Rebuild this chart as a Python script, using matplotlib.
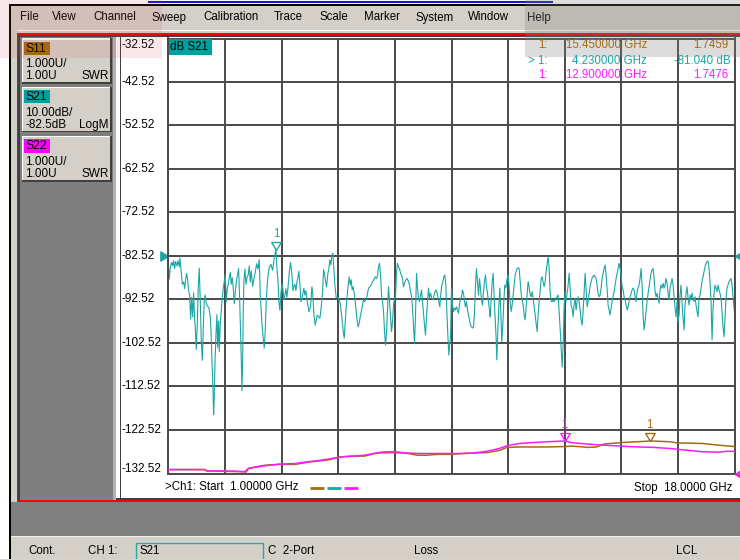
import numpy as np
import matplotlib.pyplot as plt
from matplotlib.patches import Rectangle
from matplotlib.path import Path

plt.rcParams['font.family'] = ['Liberation Sans', 'DejaVu Sans']

# S21 log-mag trace: (GHz, dB)
s21_points = [
    (1.00, -84.5), (1.03, -87.8), (1.06, -85.0), (1.10, -84.0), (1.13, -84.8), (1.16, -83.6), (1.19, -85.4),
    (1.22, -83.8), (1.26, -84.8), (1.29, -83.6), (1.33, -85.0), (1.35, -83.0), (1.39, -86.5), (1.42, -89.0),
    (1.46, -88.5), (1.49, -90.0), (1.52, -88.0), (1.55, -86.5), (1.58, -88.0), (1.61, -90.5), (1.64, -91.5),
    (1.67, -97.0), (1.70, -92.0), (1.73, -96.5), (1.76, -91.0), (1.79, -97.0), (1.81, -99.0), (1.84, -104.0),
    (1.87, -98.0), (1.90, -89.5), (1.93, -85.3), (1.96, -93.0), (1.99, -102.0), (2.02, -106.5), (2.05, -99.0),
    (2.08, -92.5), (2.11, -91.5), (2.14, -93.5), (2.18, -94.0), (2.22, -94.5), (2.26, -96.5), (2.28, -99.5),
    (2.31, -106.5), (2.34, -113.0), (2.36, -119.0), (2.38, -115.0), (2.40, -107.5), (2.43, -100.5), (2.46, -96.0),
    (2.48, -103.5), (2.51, -97.5), (2.53, -104.5), (2.56, -98.0), (2.58, -96.0), (2.61, -93.0), (2.65, -89.8),
    (2.68, -88.4), (2.71, -86.8), (2.74, -93.0), (2.77, -90.0), (2.80, -89.0), (2.83, -87.5), (2.86, -86.3),
    (2.89, -89.0), (2.92, -87.5), (2.95, -90.0), (2.98, -93.5), (3.01, -91.0), (3.04, -88.5), (3.08, -86.8),
    (3.11, -85.4), (3.14, -92.0), (3.17, -100.5), (3.19, -106.0), (3.21, -113.5), (3.23, -107.0), (3.25, -95.0),
    (3.27, -88.0), (3.30, -85.5), (3.33, -89.0), (3.36, -87.5), (3.40, -86.8), (3.43, -84.8), (3.46, -88.5),
    (3.49, -86.0), (3.53, -89.5), (3.57, -87.8), (3.61, -86.3), (3.65, -84.3), (3.69, -85.5), (3.73, -83.4),
    (3.76, -91.5), (3.79, -95.3), (3.82, -99.0), (3.85, -101.5), (3.88, -103.7), (3.91, -99.5), (3.94, -93.0),
    (3.97, -89.0), (4.00, -86.5), (4.03, -85.2), (4.08, -84.4), (4.13, -85.8), (4.18, -83.0), (4.23, -81.04),
    (4.26, -85.5), (4.29, -88.0), (4.32, -93.0), (4.35, -95.0), (4.38, -91.0), (4.41, -89.0), (4.44, -90.0),
    (4.47, -92.5), (4.50, -91.5), (4.53, -90.0), (4.56, -92.0), (4.59, -90.0), (4.63, -86.3), (4.67, -84.0),
    (4.71, -86.8), (4.74, -90.5), (4.77, -89.5), (4.80, -89.0), (4.83, -90.5), (4.86, -88.5), (4.89, -87.5),
    (4.92, -86.0), (4.95, -89.0), (4.98, -93.0), (5.01, -92.5), (5.04, -91.0), (5.07, -90.0), (5.10, -91.5),
    (5.13, -90.5), (5.16, -92.5), (5.22, -95.3), (5.27, -94.2), (5.31, -89.6), (5.34, -91.5), (5.37, -96.1),
    (5.41, -98.4), (5.44, -97.2), (5.47, -96.1), (5.51, -96.5), (5.55, -96.8), (5.59, -94.2), (5.63, -90.7),
    (5.66, -85.7), (5.69, -86.5), (5.72, -88.4), (5.75, -89.6), (5.79, -86.5), (5.82, -85.4), (5.85, -83.4),
    (5.88, -84.6), (5.91, -82.3), (5.94, -81.9), (5.97, -85.4), (6.00, -89.2), (6.04, -92.2), (6.08, -91.9),
    (6.12, -92.6), (6.16, -93.4), (6.19, -95.3), (6.22, -97.6), (6.25, -99.9), (6.28, -101.4), (6.31, -97.6),
    (6.34, -94.2), (6.37, -91.5), (6.40, -89.2), (6.43, -87.3), (6.46, -89.2), (6.49, -88.0), (6.52, -90.3),
    (6.55, -89.6), (6.58, -91.1), (6.61, -93.0), (6.64, -95.3), (6.67, -97.6), (6.70, -98.8), (6.73, -98.0),
    (6.76, -96.5), (6.79, -95.3), (6.82, -94.2), (6.86, -92.6), (6.89, -93.0), (6.93, -92.6), (6.97, -91.5),
    (7.01, -89.9), (7.05, -89.6), (7.09, -89.2), (7.13, -88.4), (7.17, -88.0), (7.21, -87.3), (7.25, -87.7),
    (7.28, -86.9), (7.31, -85.0), (7.34, -84.2), (7.37, -86.9), (7.40, -91.5), (7.43, -93.0), (7.46, -95.3),
    (7.49, -99.9), (7.52, -103.0), (7.55, -99.9), (7.58, -94.9), (7.61, -89.6), (7.64, -93.0), (7.67, -96.1),
    (7.70, -99.9), (7.73, -97.6), (7.76, -93.8), (7.79, -92.2), (7.82, -91.9), (7.85, -86.1), (7.88, -84.2),
    (7.91, -85.0), (7.94, -85.4), (7.97, -86.5), (8.00, -86.9), (8.03, -87.7), (8.06, -89.6), (8.09, -88.8),
    (8.13, -88.0), (8.17, -87.7), (8.21, -88.4), (8.24, -89.2), (8.28, -91.1), (8.31, -92.2), (8.34, -96.1),
    (8.37, -99.9), (8.39, -102.6), (8.42, -96.1), (8.45, -86.5), (8.48, -89.9), (8.51, -92.2), (8.54, -93.0),
    (8.57, -91.5), (8.60, -90.3), (8.63, -93.0), (8.66, -95.7), (8.69, -98.4), (8.72, -100.7), (8.75, -96.5),
    (8.78, -93.0), (8.81, -89.9), (8.84, -92.2), (8.87, -91.1), (8.91, -92.2), (8.95, -92.6), (8.99, -91.1),
    (9.03, -90.3), (9.06, -90.7), (9.09, -91.9), (9.12, -93.0), (9.15, -94.2), (9.18, -91.1), (9.21, -89.2),
    (9.24, -88.4), (9.27, -87.3), (9.30, -86.9), (9.33, -89.2), (9.36, -95.3), (9.39, -100.7), (9.42, -105.3),
    (9.45, -102.2), (9.47, -101.4), (9.50, -89.9), (9.53, -93.8), (9.56, -95.3), (9.59, -94.5), (9.62, -94.9),
    (9.65, -94.2), (9.68, -94.9), (9.71, -95.7), (9.74, -93.8), (9.77, -92.2), (9.80, -91.9), (9.83, -90.3),
    (9.86, -91.1), (9.89, -93.0), (9.92, -94.2), (9.95, -93.0), (9.98, -94.9), (10.01, -96.1), (10.04, -97.2),
    (10.07, -98.4), (10.10, -98.8), (10.13, -99.1), (10.16, -98.8), (10.19, -95.7), (10.22, -89.2), (10.25, -85.4),
    (10.28, -88.4), (10.31, -91.5), (10.34, -87.7), (10.37, -89.9), (10.40, -92.6), (10.43, -93.8), (10.46, -90.7),
    (10.49, -88.4), (10.52, -86.9), (10.55, -89.6), (10.58, -91.1), (10.61, -93.0), (10.64, -94.9), (10.66, -96.5),
    (10.69, -92.6), (10.72, -88.4), (10.75, -86.5), (10.78, -92.2), (10.81, -96.8), (10.84, -101.4), (10.86, -106.4),
    (10.89, -99.9), (10.92, -94.5), (10.95, -89.9), (10.98, -95.3), (11.01, -102.2), (11.04, -98.4), (11.07, -93.0),
    (11.10, -89.2), (11.13, -89.9), (11.17, -87.7), (11.20, -86.9), (11.23, -89.6), (11.26, -93.0), (11.29, -95.3),
    (11.32, -93.8), (11.35, -91.5), (11.38, -89.2), (11.41, -86.9), (11.44, -86.1), (11.47, -85.4), (11.50, -85.2),
    (11.53, -85.4), (11.56, -88.4), (11.59, -91.1), (11.62, -92.6), (11.65, -93.8), (11.68, -96.1), (11.71, -97.2),
    (11.74, -94.2), (11.77, -91.1), (11.80, -88.4), (11.83, -89.6), (11.86, -91.5), (11.89, -91.9), (11.92, -90.7),
    (11.95, -92.2), (11.98, -94.2), (12.01, -96.1), (12.04, -98.0), (12.07, -99.9), (12.10, -96.1), (12.13, -93.0),
    (12.16, -90.7), (12.19, -87.7), (12.22, -87.3), (12.25, -88.4), (12.28, -89.6), (12.31, -88.4), (12.34, -86.1),
    (12.37, -84.2), (12.40, -82.7), (12.43, -85.4), (12.46, -90.7), (12.49, -93.0), (12.52, -93.0), (12.55, -92.6),
    (12.58, -93.0), (12.61, -92.6), (12.64, -92.2), (12.67, -91.9), (12.70, -91.5), (12.73, -95.3), (12.76, -99.1),
    (12.79, -103.7), (12.82, -108.0), (12.85, -103.0), (12.88, -94.2), (12.91, -90.7), (12.94, -93.0), (12.97, -91.1),
    (13.00, -89.2), (13.03, -86.5), (13.06, -89.9), (13.09, -93.8), (13.12, -94.5), (13.15, -96.5), (13.18, -93.8),
    (13.21, -92.2), (13.24, -94.9), (13.27, -93.0), (13.30, -91.9), (13.33, -93.0), (13.36, -94.9), (13.39, -97.2),
    (13.42, -98.4), (13.45, -95.3), (13.48, -91.1), (13.51, -86.5), (13.54, -90.3), (13.57, -94.2), (13.60, -93.0),
    (13.63, -91.1), (13.66, -89.6), (13.69, -88.4), (13.73, -87.3), (13.75, -87.3), (13.78, -86.9), (13.81, -87.3),
    (13.84, -87.7), (13.87, -89.2), (13.90, -91.1), (13.93, -91.9), (13.96, -91.5), (13.99, -89.9), (14.02, -87.7),
    (14.05, -86.5), (14.08, -85.4), (14.11, -84.6), (14.14, -86.9), (14.17, -89.9), (14.20, -93.8), (14.23, -94.9),
    (14.26, -96.1), (14.29, -94.5), (14.32, -93.0), (14.35, -91.9), (14.38, -90.7), (14.41, -89.2), (14.44, -87.7),
    (14.47, -86.5), (14.50, -85.4), (14.53, -84.2), (14.56, -85.4), (14.59, -86.9), (14.62, -89.6), (14.65, -90.3),
    (14.68, -91.9), (14.71, -92.6), (14.74, -93.8), (14.77, -94.9), (14.80, -94.2), (14.83, -93.0), (14.86, -91.9),
    (14.89, -91.1), (14.92, -90.3), (14.95, -89.9), (14.98, -90.3), (15.01, -91.9), (15.04, -93.0), (15.07, -90.7),
    (15.10, -89.9), (15.13, -89.2), (15.16, -87.7), (15.19, -85.4), (15.22, -89.2), (15.25, -96.1), (15.28, -99.5),
    (15.31, -97.6), (15.34, -95.3), (15.37, -93.0), (15.40, -91.1), (15.43, -89.6), (15.46, -88.0), (15.49, -86.5),
    (15.52, -85.7), (15.55, -85.4), (15.58, -87.7), (15.61, -90.7), (15.64, -91.9), (15.67, -91.1), (15.70, -92.2),
    (15.73, -93.4), (15.76, -90.3), (15.79, -89.2), (15.82, -89.9), (15.85, -88.8), (15.88, -89.9), (15.91, -89.2),
    (15.94, -87.7), (15.97, -88.8), (16.00, -91.1), (16.03, -92.6), (16.06, -89.9), (16.09, -88.8), (16.12, -87.7),
    (16.15, -89.2), (16.18, -91.9), (16.21, -94.5), (16.24, -96.5), (16.27, -93.0), (16.30, -97.6), (16.33, -96.1),
    (16.36, -91.5), (16.39, -89.2), (16.42, -93.4), (16.45, -96.8), (16.48, -99.5), (16.51, -93.8), (16.54, -91.1),
    (16.57, -89.6), (16.60, -92.2), (16.63, -93.8), (16.66, -91.5), (16.69, -92.6), (16.72, -91.1), (16.75, -92.2),
    (16.78, -93.0), (16.81, -91.9), (16.84, -93.8), (16.87, -95.3), (16.90, -96.5), (16.93, -92.2), (16.96, -91.5),
    (16.99, -89.9), (17.02, -88.4), (17.05, -87.3), (17.08, -86.1), (17.11, -85.0), (17.14, -84.2), (17.17, -83.8),
    (17.20, -83.7), (17.23, -85.4), (17.26, -88.4), (17.29, -93.0), (17.32, -101.8), (17.35, -94.5), (17.38, -91.1),
    (17.41, -89.2), (17.44, -89.9), (17.47, -90.7), (17.50, -89.2), (17.53, -90.3), (17.56, -91.1), (17.59, -92.2),
    (17.62, -95.3), (17.65, -98.8), (17.68, -101.1), (17.71, -96.8), (17.74, -92.2), (17.77, -89.9), (17.80, -89.2),
    (17.83, -88.4), (17.86, -88.0), (17.89, -87.7), (17.92, -89.2), (17.95, -91.9), (17.98, -94.2), (18.00, -96.1),
]

# S11 and S22 SWR traces: (GHz, SWR)
s11_points = [
    (1.00, 1.09), (2.10, 1.09), (2.15, 1.06), (3.29, 1.04), (3.41, 1.12), (3.60, 1.15), (3.90, 1.19),
    (4.33, 1.21), (4.82, 1.21), (5.18, 1.26), (5.43, 1.28), (5.79, 1.31), (6.16, 1.38), (6.53, 1.40),
    (6.89, 1.40), (7.26, 1.47), (7.75, 1.48), (8.12, 1.47), (8.48, 1.42), (8.73, 1.42), (9.09, 1.44),
    (9.46, 1.44), (9.83, 1.46), (10.19, 1.47), (10.56, 1.48), (10.93, 1.53), (11.17, 1.60), (11.54, 1.61),
    (11.90, 1.61), (12.39, 1.61), (12.88, 1.62), (13.13, 1.63), (13.61, 1.60), (13.85, 1.61), (14.10, 1.68),
    (14.59, 1.71), (15.08, 1.73), (15.45, 1.7459), (15.57, 1.745), (16.06, 1.73), (16.30, 1.70), (16.55, 1.70),
    (17.04, 1.69), (17.53, 1.65), (18.00, 1.62),
]
s22_points = [
    (1.00, 1.09), (2.10, 1.09), (2.15, 1.06), (3.00, 1.055), (3.29, 1.04), (3.33, 1.03), (3.41, 1.115),
    (3.84, 1.17), (4.33, 1.215), (4.82, 1.23), (5.18, 1.27), (5.43, 1.29), (5.79, 1.33), (6.16, 1.38),
    (6.53, 1.40), (6.89, 1.42), (7.26, 1.475), (7.50, 1.50), (7.75, 1.50), (8.12, 1.475), (8.48, 1.46),
    (9.09, 1.46), (9.83, 1.46), (10.19, 1.475), (10.56, 1.51), (10.93, 1.575), (11.17, 1.64), (11.54, 1.69),
    (11.90, 1.71), (12.39, 1.73), (12.90, 1.7476), (13.13, 1.705), (13.61, 1.675), (14.10, 1.65), (14.59, 1.63),
    (15.08, 1.61), (15.57, 1.60), (16.06, 1.575), (16.55, 1.535), (17.04, 1.50), (17.53, 1.49), (17.75, 1.51),
    (18.00, 1.51),
]

y_tick_values = [-32.52, -42.52, -52.52, -62.52, -72.52, -82.52, -92.52, -102.52, -112.52, -122.52, -132.52]
f_start, f_stop = 1.0, 18.0
s21_ref = -82.52
swr_ref = 1.0
s21_marker = (4.23, -81.04)
s11_marker = (15.45, 1.7459)
s22_marker = (12.90, 1.7476)
marker_rows = [('1:', '15.450000 GHz', '1.7459'),
               ('> 1:', '4.230000 GHz', '-81.040 dB'),
               ('1:', '12.900000 GHz', '1.7476')]
menu_items = ['File', 'View', 'Channel', 'Sweep', 'Calibration', 'Trace', 'Scale',
              'Marker', 'System', 'Window', 'Help']
trace_cards = [('S11', '1.000U/', '1.00U', 'SWR'),
               ('S21', '10.00dB/', '-82.5dB', 'LogM'),
               ('S22', '1.000U/', '1.00U', 'SWR')]
status_items = ['Cont.', 'CH 1:', 'S21', 'C  2-Port', 'Loss', 'LCL']

TEAL = '#1ba6a6'
BROWN = '#a36c10'
MAGENTA = '#ff1aff'
GRID = '#4a4a4a'
FACE = '#d4d0c8'

W, H = 740, 559
fig = plt.figure(figsize=(W / 100, H / 100), dpi=100)
fig.patch.set_facecolor('white')

bg = fig.add_axes([0, 0, 1, 1])
bg.set_xlim(0, W)
bg.set_ylim(H, 0)
bg.axis('off')


def rect(a, x0, y0, x1, y1, color, **kw):
    a.add_patch(Rectangle((x0, y0), x1 - x0, y1 - y0, facecolor=color, edgecolor='none', **kw))


# window chrome
rect(bg, 148, 0.5, 553, 2.5, '#1414e6')
rect(bg, 9, 4, W, 6, 'black')
rect(bg, 9, 4, 11, H, 'black')
rect(bg, 11, 6, W, 33, FACE)
rect(bg, 11, 29.5, W, 30.5, 'white')
rect(bg, 11, 30, 17, H, FACE)
rect(bg, 16.5, 33, W, 35, '#ff0000')
rect(bg, 16.5, 33, 18, 502, '#ff0000')
rect(bg, 16.5, 500, W, 502, '#ff0000')
rect(bg, 18, 35, W, 37, '#404040')
rect(bg, 18, 35, 19.5, 500, '#404040')
rect(bg, 19.5, 37, 113, 500, '#7f7f7f')
rect(bg, 113, 37, 116, 500, '#b4b4b4')
rect(bg, 116, 37, W, 498, 'white')
rect(bg, 119.5, 37, 120.8, 498, '#404040')
rect(bg, 116, 498, W, 500, '#404040')
rect(bg, 11, 502, W, 536, '#808080')
rect(bg, 11, 536, W, 537, '#f0f0f0')
rect(bg, 11, 537, W, H, FACE)

for x, item in zip([20, 52, 93, 151, 203, 274, 320, 364, 416, 468, 527], menu_items):
    bg.text(x, 17.5, item, fontsize=8.3, ha='left', va='center')

# trace cards in the left panel
card_colors = [BROWN, '#00a0a0', '#ff00ff']
for top_y, (name, l1, l2, fmt), col in zip([38.3, 86.7, 136.0], trace_cards, card_colors):
    x0, x1, y1 = 21.7, 111.7, top_y + 45.5
    rect(bg, x0, top_y, x1, y1, FACE)
    rect(bg, x0, top_y, x1, top_y + 1.3, 'white')
    rect(bg, x0, top_y, x0 + 1.3, y1, 'white')
    rect(bg, x0, y1 - 1.5, x1, y1, '#404040')
    rect(bg, x1 - 1.5, top_y, x1, y1, '#404040')
    rect(bg, 24, top_y + 3.4, 50, top_y + 16.7, col)
    bg.text(25, top_y + 10.3, name, fontsize=8.7, ha='left', va='center')
    bg.text(25, top_y + 26, l1, fontsize=8.5, ha='left', va='center')
    bg.text(25, top_y + 38, l2, fontsize=8.5, ha='left', va='center')
    bg.text(109, top_y + 38, fmt, fontsize=8.5, ha='right', va='center')

# status bar
bg.add_patch(Rectangle((136, 543), 127, 20, facecolor='none', edgecolor='#2aa8a8', lw=1.0))
for x, item in zip([28, 88, 139, 268, 414, 676], status_items):
    bg.text(x, 551.5, item, fontsize=8.3, ha='left', va='center')

# bottom sweep line
bg.text(165, 487.5, '>Ch1: Start  1.00000 GHz', fontsize=8.3, ha='left', va='center')
for (xa, xb), col in zip([(310, 324), (327, 341), (344, 358)], [BROWN, TEAL, MAGENTA]):
    bg.plot([xa, xb], [487.5, 487.5], color=col, lw=2.0, solid_capstyle='butt')
bg.text(732, 487.5, 'Stop  18.0000 GHz', fontsize=8.3, ha='right', va='center')

# measurement grid
px_l, px_r, px_t, px_b = 168.3, 734.7, 38.5, 473.5
ax = fig.add_axes([px_l / W, 1 - px_b / H, (px_r - px_l) / W, (px_b - px_t) / H], zorder=2)
ax.set_xlim(f_start, f_stop)
ax.set_ylim(min(y_tick_values), max(y_tick_values))
ax.set_xticks(np.linspace(f_start, f_stop, 11))
ax.set_yticks(y_tick_values)
ax.grid(True, color=GRID, lw=1.4)
ax.tick_params(length=0, labelleft=False, labelbottom=False)
for sp in ax.spines.values():
    sp.set_color(GRID)
    sp.set_linewidth(1.4)

lab_x = (121 - px_l) / (px_r - px_l)
for v in y_tick_values:
    dy = 0
    if v == max(y_tick_values):
        dy = -7
    elif v == min(y_tick_values):
        dy = 4
    ax.annotate(f'{v:.2f}', xy=(lab_x, v), xycoords=ax.get_yaxis_transform(),
                xytext=(0, dy), textcoords='offset pixels', ha='left', va='center',
                fontsize=8.5, annotation_clip=False)

f21, d21 = zip(*s21_points)
ax.plot(f21, d21, color=TEAL, lw=0.8)

ax2 = ax.twinx()
ax2.set_ylim(swr_ref, swr_ref + 10)
ax2.set_axis_off()
f11, v11 = zip(*s11_points)
f22, v22 = zip(*s22_points)
ax2.plot(f11, v11, color=BROWN, lw=1.1)
ax2.plot(f22, v22, color=MAGENTA, lw=1.1)

tri_down = Path([(-0.6, 1.0), (0.6, 1.0), (0.0, 0.0), (-0.6, 1.0)],
                [Path.MOVETO, Path.LINETO, Path.LINETO, Path.CLOSEPOLY])
arrow_right = Path([(0, 0), (-1, 0.6), (-1, -0.6), (0, 0)],
                   [Path.MOVETO, Path.LINETO, Path.LINETO, Path.CLOSEPOLY])
arrow_left = Path([(0, 0), (1, 0.6), (1, -0.6), (0, 0)],
                  [Path.MOVETO, Path.LINETO, Path.LINETO, Path.CLOSEPOLY])

for a, (mf, mv), col in [(ax, s21_marker, TEAL), (ax2, s22_marker, MAGENTA), (ax2, s11_marker, BROWN)]:
    a.plot([mf], [mv], marker=tri_down, ms=11.5, mfc='none', mec=col, mew=1.0, ls='none', clip_on=False)
    a.annotate('1', xy=(mf, mv), xytext=(0, 16), textcoords='offset pixels', ha='center',
               va='center', color=col, fontsize=8.3)

# reference position arrows
ax.plot([f_start], [s21_ref], marker=arrow_right, ms=11, color=TEAL, ls='none', clip_on=False)
ax.plot([f_stop], [s21_ref], marker=arrow_left, ms=11, color=TEAL, ls='none', clip_on=False)
ax2.plot([f_stop], [swr_ref], marker=arrow_left, ms=11, color=BROWN, ls='none', clip_on=False)
ax2.plot([f_stop], [swr_ref], marker=arrow_left, ms=11, color=MAGENTA, ls='none', clip_on=False)

# overlays on top: trace tag, marker table, screenshot tint
top = fig.add_axes([0, 0, 1, 1], zorder=5)
top.set_xlim(0, W)
top.set_ylim(H, 0)
top.axis('off')
top.patch.set_alpha(0)

rect(top, 168.8, 39.2, 212, 55, '#00a0a0')
top.text(170, 47.3, 'dB S21', fontsize=8.3, ha='left', va='center')

rect(top, 525, 0, W, 57, '#808080', alpha=0.27)
rect(top, 0, 0, 162, 58, '#c05050', alpha=0.13)

for (lab, fr, val), y, col, vx in zip(marker_rows, [45, 61.5, 75.5], [BROWN, TEAL, MAGENTA], [728, 731, 728]):
    top.text(548, y, lab, fontsize=8.3, ha='right', va='center', color=col)
    top.text(647, y, fr, fontsize=8.3, ha='right', va='center', color=col)
    top.text(vx, y, val, fontsize=8.3, ha='right', va='center', color=col)

fig.savefig('out.png', dpi=100)
